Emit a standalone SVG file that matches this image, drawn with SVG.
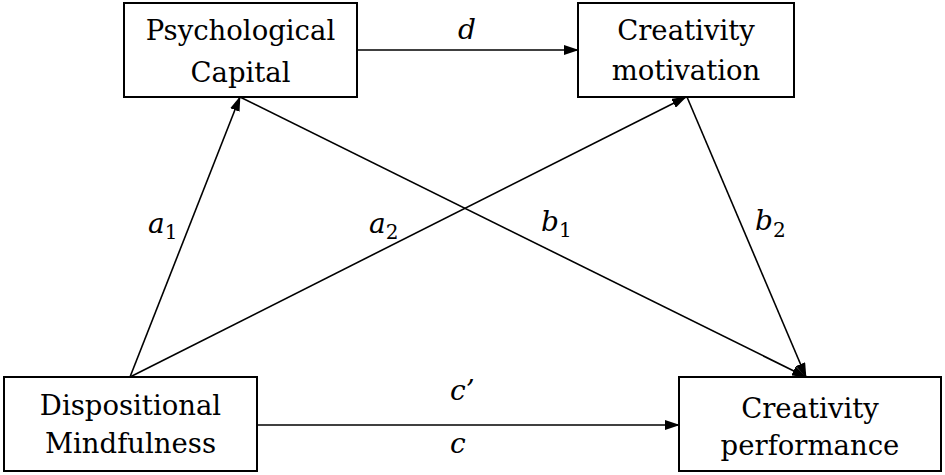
<svg xmlns="http://www.w3.org/2000/svg" width="945" height="475" viewBox="0 0 945 475">
<defs>
<style>
.box{fill:#fff;stroke:#000;stroke-width:2}
.t{font-family:"DejaVu Serif",serif;font-size:27.5px;text-anchor:middle;fill:#000}
.l{font-family:"DejaVu Serif",serif;font-size:28px;font-style:italic;fill:#000}
.s{font-size:20px;font-style:normal}
.c{stroke:#000;stroke-width:1.6;fill:none;marker-end:url(#ah)}
</style>
<marker id="ah" markerWidth="15" markerHeight="10" refX="14" refY="5" orient="auto" markerUnits="userSpaceOnUse">
<path d="M0,0 L15,5 L0,10 Z" fill="#000"/>
</marker>
</defs>
<rect width="945" height="475" fill="#fff"/>
<g id="connectors">
<line class="c" x1="357" y1="50" x2="578" y2="50"/>
<line class="c" x1="130" y1="377" x2="240" y2="97"/>
<line class="c" x1="130" y1="377" x2="686" y2="97"/>
<line class="c" x1="240" y1="97" x2="806" y2="377"/>
<line class="c" x1="687" y1="97" x2="806" y2="377"/>
<line class="c" x1="257" y1="425" x2="679" y2="425"/>
</g>
<g id="labels">
<text class="l" x="458" y="39">d</text>
<text class="l" x="148" y="233">a<tspan class="s" dy="6">1</tspan></text>
<text class="l" x="369" y="233">a<tspan class="s" dy="6">2</tspan></text>
<text class="l" x="541" y="231">b<tspan class="s" dy="6">1</tspan></text>
<text class="l" x="755" y="230">b<tspan class="s" dy="7">2</tspan></text>
<text class="l" x="450" y="400">c’</text>
<text class="l" x="450" y="453">c</text>
</g>
<g id="node-psycap">
<rect class="box" x="124" y="3" width="233" height="94"/>
<text class="t" x="240.5" y="40">Psychological</text>
<text class="t" x="240.5" y="82">Capital</text>
</g>
<g id="node-motivation">
<rect class="box" x="578" y="3" width="216" height="94"/>
<text class="t" x="686" y="40">Creativity</text>
<text class="t" x="686" y="80">motivation</text>
</g>
<g id="node-mindfulness">
<rect class="box" x="4" y="377" width="253" height="94"/>
<text class="t" x="130.5" y="415">Dispositional</text>
<text class="t" x="130.5" y="453">Mindfulness</text>
</g>
<g id="node-performance">
<rect class="box" x="679" y="377" width="262" height="94"/>
<text class="t" x="810" y="418">Creativity</text>
<text class="t" x="810" y="455">performance</text>
</g>
</svg>
